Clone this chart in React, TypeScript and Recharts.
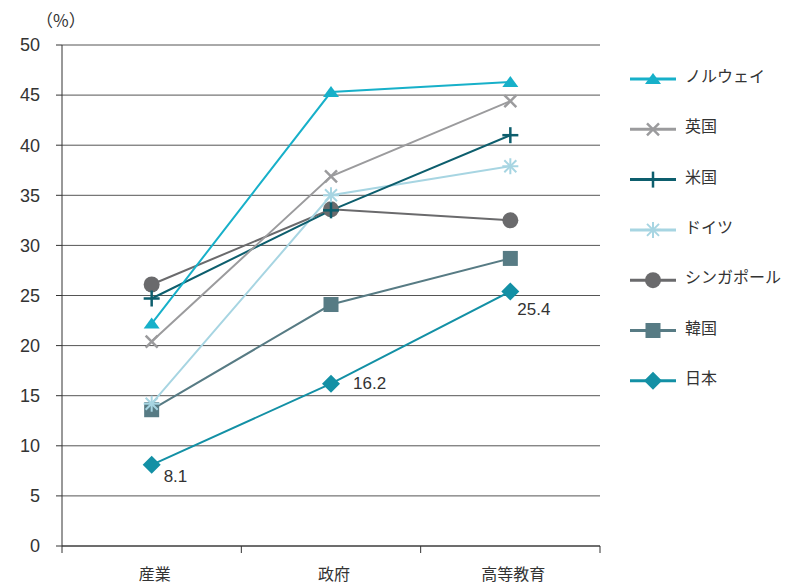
import React from "react";
import { LineChart, Line, XAxis, YAxis, CartesianGrid, LabelList } from "recharts";

const categories = ["産業", "政府", "高等教育"];
const norway = [22.2, 45.3, 46.3];
const uk = [20.4, 36.9, 44.4];
const us = [24.7, 33.5, 41.0];
const germany = [14.2, 35.0, 37.9];
const singapore = [26.1, 33.6, 32.5];
const korea = [13.6, 24.1, 28.7];
const japan = [8.1, 16.2, 25.4];
const yTicks = [0, 5, 10, 15, 20, 25, 30, 35, 40, 45, 50];

const series = [
    { key: "norway", name: "ノルウェイ", values: norway, color: "#17b0c9", shape: "triangle" },
    { key: "uk", name: "英国", values: uk, color: "#9b9b9d", shape: "x" },
    { key: "us", name: "米国", values: us, color: "#0d5e6d", shape: "plus" },
    { key: "germany", name: "ドイツ", values: germany, color: "#a7d5e2", shape: "asterisk" },
    { key: "singapore", name: "シンガポール", values: singapore, color: "#6a6a6c", shape: "circle" },
    { key: "korea", name: "韓国", values: korea, color: "#577b84", shape: "square" },
    { key: "japan", name: "日本", values: japan, color: "#1390a5", shape: "diamond" },
];

const data = categories.map((name, i) => {
    const row: any = { x: i + 0.5, name };
    series.forEach((s) => (row[s.key] = s.values[i]));
    return row;
});

const FONT = '"Liberation Sans", "Noto Sans CJK JP", sans-serif';
const JP_FONT = '"Noto Sans CJK JP", "Liberation Sans", sans-serif';

const Marker = ({ shape, cx, cy, color }: any) => {
    if (cx == null || cy == null) return null;
    switch (shape) {
        case "triangle":
            return <polygon points={`${cx},${cy - 6} ${cx + 8},${cy + 5} ${cx - 8},${cy + 5}`} fill={color} />;
        case "x":
            return (
                <g stroke={color} strokeWidth={2.5}>
                    <line x1={cx - 6} y1={cy - 6} x2={cx + 6} y2={cy + 6} />
                    <line x1={cx - 6} y1={cy + 6} x2={cx + 6} y2={cy - 6} />
                </g>
            );
        case "plus":
            return (
                <g stroke={color} strokeWidth={2.5}>
                    <line x1={cx} y1={cy - 8} x2={cx} y2={cy + 8} />
                    <line x1={cx - 8} y1={cy} x2={cx + 8} y2={cy} />
                </g>
            );
        case "asterisk":
            return (
                <g stroke={color} strokeWidth={2}>
                    <line x1={cx} y1={cy - 8} x2={cx} y2={cy + 8} />
                    <line x1={cx - 8} y1={cy} x2={cx + 8} y2={cy} />
                    <line x1={cx - 6} y1={cy - 6} x2={cx + 6} y2={cy + 6} />
                    <line x1={cx - 6} y1={cy + 6} x2={cx + 6} y2={cy - 6} />
                </g>
            );
        case "circle":
            return <circle cx={cx} cy={cy} r={8} fill={color} />;
        case "square":
            return <rect x={cx - 7.5} y={cy - 7.5} width={15} height={15} fill={color} />;
        case "diamond":
            return <polygon points={`${cx},${cy - 9} ${cx + 9},${cy} ${cx},${cy + 9} ${cx - 9},${cy}`} fill={color} />;
    }
    return null;
};

const XTick = ({ x, y, payload }: any) => {
    const v = payload.value;
    if (Number.isInteger(v)) {
        return <line x1={x} x2={x} y1={y} y2={y + 7} stroke="#333" strokeWidth={1} />;
    }
    return (
        <text x={x + 3} y={y + 34} textAnchor="middle" fontSize={16} fill="#333" fontFamily={JP_FONT}>
            {categories[Math.floor(v)]}
        </text>
    );
};

const labelOffsets = [
    { dx: 12, dy: 12 },
    { dx: 22, dy: 0 },
    { dx: 7, dy: 18 },
];

const JapanLabel = (props: any) => {
    const { x, y, value, index } = props;
    const o = labelOffsets[index];
    return (
        <text x={x + o.dx} y={y + o.dy} dominantBaseline="central" fontSize={17} fill="#333" fontFamily={FONT}>
            {value}
        </text>
    );
};

const LegendBox = () => (
    <svg width={175} height={420} style={{ position: "absolute", left: 615, top: 0 }}>
        {series.map((s, i) => {
            const y = 71 + i * 50.3;
            return (
                <g key={s.key}>
                    <line x1={7} x2={53} y1={y} y2={y} stroke={s.color} strokeWidth={3} />
                    <Marker shape={s.shape} cx={30} cy={y} color={s.color} />
                    <text x={62} y={y} dy={-4} dominantBaseline="central" fontSize={16} fill="#333" fontFamily={JP_FONT}>
                        {s.name}
                    </text>
                </g>
            );
        })}
    </svg>
);

export default function App() {
    return (
        <div style={{ position: "relative", width: 787, height: 577 }}>
            <div style={{ position: "absolute", left: 28, top: 0, fontSize: 17, color: "#333", fontFamily: JP_FONT, lineHeight: "24px" }}>
                （%）
            </div>
            <LineChart width={787} height={577} data={data} margin={{ top: 37, right: 195, left: 0, bottom: 0 }} style={{ overflow: "visible" }}>
                <CartesianGrid vertical={false} stroke="#555" strokeWidth={1} />
                <XAxis
                    type="number"
                    dataKey="x"
                    domain={[0, 3]}
                    ticks={[0, 0.5, 1, 1.5, 2, 2.5, 3]}
                    tick={<XTick />}
                    tickLine={false}
                    tickSize={0}
                    tickMargin={0}
                    height={39}
                    axisLine={{ stroke: "#333" }}
                    interval={0}
                />
                <YAxis
                    domain={[0, 50]}
                    ticks={yTicks}
                    width={54}
                    tickSize={6}
                    tickMargin={16}
                    tickLine={{ stroke: "#333" }}
                    axisLine={{ stroke: "#333" }}
                    tick={{ fontSize: 18, fill: "#333", fontFamily: FONT }}
                    interval={0}
                />
                {[...series].reverse().map((s) => (
                    <Line
                        key={s.key}
                        dataKey={s.key}
                        name={s.name}
                        stroke={s.color}
                        strokeWidth={2}
                        isAnimationActive={false}
                        dot={(p: any) => <Marker key={`${s.key}-${p.index}`} shape={s.shape} cx={p.cx} cy={p.cy} color={s.color} />}
                        activeDot={false}
                    >
                        {s.key === "japan" && <LabelList dataKey="japan" content={<JapanLabel />} />}
                    </Line>
                ))}
            </LineChart>
            <LegendBox />
        </div>
    );
}
